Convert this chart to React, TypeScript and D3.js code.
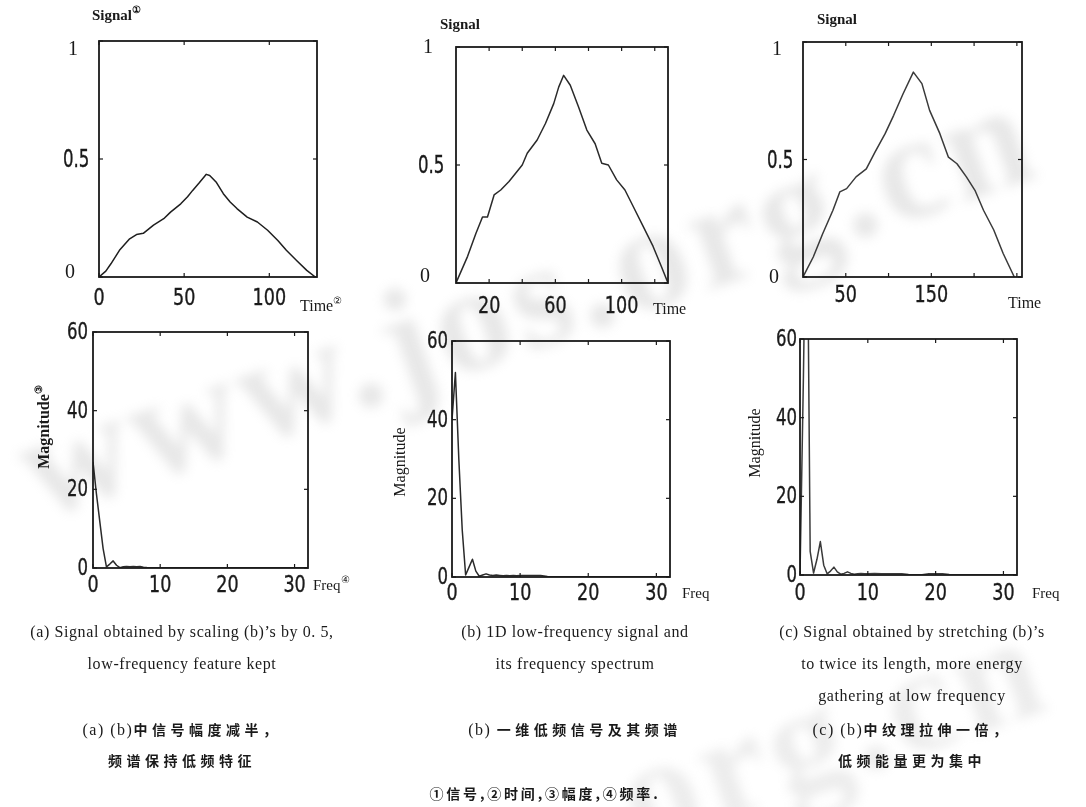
import * as d3 from 'd3';

// ---- signals (top row) ----
const timeA = [0, 4, 7, 12, 18, 22, 26, 32, 38, 42, 48, 52, 55, 59, 63, 65, 69, 73, 77, 81, 87, 93, 99, 105, 110, 116, 122, 127];
const signalA = [0, 0.025, 0.056, 0.113, 0.162, 0.18, 0.185, 0.22, 0.247, 0.275, 0.31, 0.34, 0.367, 0.4, 0.435, 0.43, 0.4, 0.353, 0.318, 0.29, 0.254, 0.233, 0.198, 0.155, 0.113, 0.07, 0.028, 0];

const timeB = [0, 7, 12, 16, 19, 23, 27, 32, 36, 40, 43, 49, 54, 59, 62, 65, 69, 74, 79, 84, 88, 92, 97, 102, 107, 113, 119, 124, 128];
const signalB = [0, 0.113, 0.21, 0.28, 0.28, 0.373, 0.394, 0.43, 0.465, 0.5, 0.55, 0.606, 0.676, 0.76, 0.83, 0.88, 0.838, 0.746, 0.648, 0.59, 0.507, 0.5, 0.437, 0.394, 0.324, 0.24, 0.155, 0.07, 0];

const timeC = [0, 12, 23, 35, 43, 51, 62, 74, 84, 96, 106, 117, 129, 139, 148, 160, 170, 180, 191, 201, 211, 223, 234, 247];
const signalC = [0, 0.085, 0.184, 0.284, 0.362, 0.376, 0.426, 0.46, 0.53, 0.61, 0.688, 0.78, 0.872, 0.823, 0.709, 0.61, 0.51, 0.482, 0.426, 0.369, 0.284, 0.2, 0.1, 0];

// ---- spectra (bottom row) ----
const freq = [0, 0.5, 1, 1.5, 2, 2.5, 3, 3.5, 4, 4.5, 5, 5.5, 6, 6.5, 7, 7.5, 8, 8.5, 9, 9.5, 10,
  11, 12, 13, 14, 15, 16, 17, 18, 19, 20, 21, 22, 23, 24, 25, 26, 27, 28, 29, 30, 31, 32];
const magA = [27, 19, 12, 5, 0.3, 1, 1.8, 0.7, 0.1, 0.3, 0.4, 0.3, 0.4, 0.3, 0.4, 0.2, 0.1, 0.05, 0.05, 0.05, 0.05,
  0.05, 0.05, 0.05, 0.05, 0.05, 0.05, 0.05, 0.05, 0.05, 0.05, 0.05, 0.05, 0.05, 0.05, 0.05, 0.05, 0.05, 0.05, 0.05, 0.05, 0.05, 0.05];
const magB = [40, 52, 30, 12, 0.5, 2.5, 4.5, 1.5, 0.2, 0.5, 0.8, 0.5, 0.4, 0.5, 0.4, 0.3, 0.4, 0.3, 0.4, 0.3, 0.4,
  0.4, 0.4, 0.4, 0.1, 0.05, 0.05, 0.05, 0.05, 0.05, 0.05, 0.05, 0.05, 0.05, 0.05, 0.05, 0.05, 0.05, 0.05, 0.05, 0.05, 0.05, 0.05];
const magC = [0, 50, 110, 6, 0.5, 4, 8.5, 2.5, 0.3, 1, 2, 0.8, 0.2, 0.4, 0.8, 0.4, 0.2, 0.3, 0.4, 0.3, 0.3,
  0.4, 0.3, 0.3, 0.3, 0.3, 0.1, 0.05, 0.05, 0.3, 0.3, 0.3, 0.1, 0.05, 0.05, 0.05, 0.05, 0.05, 0.05, 0.05, 0.05, 0.05, 0.05];

const captionsEn = [
  ['(a) Signal obtained by scaling (b)\u2019s by 0. 5,', 'low-frequency feature kept'],
  ['(b) 1D low-frequency signal and', 'its frequency spectrum'],
  ['(c) Signal obtained by stretching (b)\u2019s', 'to twice its length, more energy', 'gathering at low frequency'],
];
const captionsZh = [
  ['(a) (b)', '中信号幅度减半，', '', '频谱保持低频特征'],
  ['(b) ', '一维低频信号及其频谱'],
  ['(c) (b)', '中纹理拉伸一倍，', '', '低频能量更为集中'],
];
const footnote = '①信号,②时间,③幅度,④频率.';

const NUM_FONT = "'DejaVu Sans Condensed', 'DejaVu Sans', sans-serif";
const SERIF = "'Liberation Serif', 'DejaVu Serif', serif";
const CJK = "'Noto Sans CJK SC', sans-serif";
const INK = '#1a1a1a';

type Tick = { v: number; label?: string; serif?: boolean };

type PanelProps = {
  id: string;
  box: [number, number, number, number]; // x0, x1, y0, y1
  xDomain: [number, number];
  yDomain: [number, number];
  xs: number[];
  ys: number[];
  xTicks: Tick[];
  yTicks: Tick[];
  xLabelBase: number;
  yLabelRight: number;
  yLabelStart?: number;
  oneOff?: number;
  zeroOff?: number;
  lineColor: string;
};

const Num = ({ x, y, size, sx, anchor, children }:
  { x: number; y: number; size: number; sx: number; anchor: string; children: string }) => (
  <text transform={`translate(${x} ${y}) scale(${sx} 1)`} textAnchor={anchor}
    fontFamily={NUM_FONT} fontSize={size} fill={INK} stroke={INK} strokeWidth={0.35}>{children}</text>
);

const Panel = (p: PanelProps) => {
  const [x0, x1, y0, y1] = p.box;
  const xScale = d3.scaleLinear().domain(p.xDomain).range([x0, x1]);
  const yScale = d3.scaleLinear().domain(p.yDomain).range([y1, y0]);
  const line = d3.line<number>()
    .x((_, i) => xScale(p.xs[i]))
    .y((d) => yScale(d));
  const tl = 4;
  return (
    <g>
      <defs>
        <clipPath id={p.id}>
          <rect x={x0} y={y0} width={x1 - x0} height={y1 - y0} />
        </clipPath>
      </defs>
      <path d={line(p.ys) ?? ''} fill="none" stroke={p.lineColor} strokeWidth={1.5}
        strokeLinejoin="round" clipPath={`url(#${p.id})`} />
      <rect x={x0} y={y0} width={x1 - x0} height={y1 - y0} fill="none" stroke={INK} strokeWidth={1.8} />
      {p.xTicks.map((t, i) => {
        const x = xScale(t.v);
        return (
          <g key={`x${i}`}>
            <line x1={x} x2={x} y1={y1} y2={y1 - tl} stroke={INK} strokeWidth={1.2} />
            <line x1={x} x2={x} y1={y0} y2={y0 + tl} stroke={INK} strokeWidth={1.2} />
            {t.label && <Num x={x} y={p.xLabelBase} size={23} sx={0.85} anchor="middle">{t.label}</Num>}
          </g>
        );
      })}
      {p.yTicks.map((t, i) => {
        const y = yScale(t.v);
        let label = null;
        if (t.label && p.yLabelStart !== undefined) {
          label = t.serif
            ? <text x={p.yLabelStart + (t.v === 1 ? 5 : 2)} y={y + (t.v === 1 ? (p.oneOff ?? 11) : (p.zeroOff ?? 2))}
                fontFamily={SERIF} fontSize={20} fill={INK}>{t.label}</text>
            : <Num x={p.yLabelStart} y={y + 8} size={24} sx={0.77} anchor="start">{t.label}</Num>;
        } else if (t.label) {
          label = <Num x={p.yLabelRight} y={y + 7} size={23} sx={0.8} anchor="end">{t.label}</Num>;
        }
        return (
          <g key={`y${i}`}>
            <line x1={x0} x2={x0 + tl} y1={y} y2={y} stroke={INK} strokeWidth={1.2} />
            <line x1={x1} x2={x1 - tl} y1={y} y2={y} stroke={INK} strokeWidth={1.2} />
            {label}
          </g>
        );
      })}
    </g>
  );
};

const sup = (s: string) => <tspan fontSize={10} dy={-7}>{s}</tspan>;

export default function App() {
  const topY: Tick[] = [{ v: 0, label: '0', serif: true }, { v: 0.5, label: '0.5' }, { v: 1, label: '1', serif: true }];
  const botY: Tick[] = [{ v: 0, label: '0' }, { v: 20, label: '20' }, { v: 40, label: '40' }, { v: 60, label: '60' }];
  const botX: Tick[] = [{ v: 0, label: '0' }, { v: 10, label: '10' }, { v: 20, label: '20' }, { v: 30, label: '30' }];
  const enX = [182, 575, 912];
  const zhX = [182, 575, 912];

  return (
    <svg width={1086} height={807} style={{ position: 'absolute', left: 0, top: 0, background: '#fff' }}>
      <defs>
        <filter id="wmblur" x="-10%" y="-10%" width="120%" height="120%">
          <feGaussianBlur stdDeviation={6} />
        </filter>
      </defs>
      <rect width={1086} height={807} fill="#fff" />
      {/* watermark */}
      <g filter="url(#wmblur)" opacity={0.4}>
        <text x={40} y={520} transform="rotate(-19 40 520)" fontFamily={SERIF} fontWeight="bold"
          fontSize={150} fill="#c4c4c4" letterSpacing={6}>www.jos.org.cn</text>
        <text x={640} y={850} transform="rotate(-19 640 850)" fontFamily={SERIF} fontWeight="bold"
          fontSize={150} fill="#d0d0d0" letterSpacing={6}>org.cn</text>
      </g>

      {/* top row: signals */}
      <Panel id="cA" box={[99, 317, 41, 277]} xDomain={[0, 128]} yDomain={[0, 1]} xs={timeA} ys={signalA}
        xTicks={[{ v: 0, label: '0' }, { v: 50, label: '50' }, { v: 100, label: '100' }]} yTicks={topY}
        xLabelBase={305} yLabelRight={92} yLabelStart={63} oneOff={14} zeroOff={1} lineColor="#1e1e1e" />
      <Panel id="cB" box={[456, 668, 47, 283]} xDomain={[0, 128]} yDomain={[0, 1]} xs={timeB} ys={signalB}
        xTicks={[{ v: 20, label: '20' }, { v: 40 }, { v: 60, label: '60' }, { v: 80 }, { v: 100, label: '100' }, { v: 120 }]}
        yTicks={topY} xLabelBase={313} yLabelRight={450} yLabelStart={418} oneOff={6} zeroOff={-1} lineColor="#2a2a2a" />
      <Panel id="cC" box={[803, 1022, 42, 277]} xDomain={[0, 256]} yDomain={[0, 1]} xs={timeC} ys={signalC}
        xTicks={[{ v: 50, label: '50' }, { v: 100 }, { v: 150, label: '150' }, { v: 200 }, { v: 250 }]}
        yTicks={topY} xLabelBase={302} yLabelRight={800} yLabelStart={767} oneOff={13} zeroOff={6} lineColor="#3a3a3a" />

      {/* bottom row: spectra */}
      <Panel id="sA" box={[93, 308, 332, 568]} xDomain={[0, 32]} yDomain={[0, 60]} xs={freq} ys={magA}
        xTicks={botX} yTicks={botY} xLabelBase={592} yLabelRight={88} lineColor="#2a2a2a" />
      <Panel id="sB" box={[452, 670, 341, 577]} xDomain={[0, 32]} yDomain={[0, 60]} xs={freq} ys={magB}
        xTicks={botX} yTicks={botY} xLabelBase={600} yLabelRight={448} lineColor="#2a2a2a" />
      <Panel id="sC" box={[800, 1017, 339, 575]} xDomain={[0, 32]} yDomain={[0, 60]} xs={freq} ys={magC}
        xTicks={botX} yTicks={botY} xLabelBase={600} yLabelRight={797} lineColor="#3a3a3a" />

      {/* axis names */}
      <g fontFamily={SERIF} fill={INK}>
        <text x={92} y={20} fontSize={15} fontWeight="bold">Signal{sup('①')}</text>
        <text x={440} y={29} fontSize={15} fontWeight="bold">Signal</text>
        <text x={817} y={24} fontSize={15} fontWeight="bold">Signal</text>
        <text x={300} y={311} fontSize={16}>Time{sup('②')}</text>
        <text x={653} y={314} fontSize={16}>Time</text>
        <text x={1008} y={308} fontSize={16}>Time</text>
        <text x={313} y={590} fontSize={15}>Freq{sup('④')}</text>
        <text x={682} y={598} fontSize={15}>Freq</text>
        <text x={1032} y={598} fontSize={15}>Freq</text>
        <text transform="translate(49 427) rotate(-90)" textAnchor="middle" fontSize={16} fontWeight="bold">Magnitude{sup('③')}</text>
        <text transform="translate(405 462) rotate(-90)" textAnchor="middle" fontSize={16}>Magnitude</text>
        <text transform="translate(760 443) rotate(-90)" textAnchor="middle" fontSize={16}>Magnitude</text>
      </g>

      {/* captions */}
      <g fontFamily={SERIF} fontSize={16} fill={INK} textAnchor="middle" letterSpacing={0.6}>
        {captionsEn.map((lines, i) => lines.map((s, j) => (
          <text key={`en${i}${j}`} x={enX[i]} y={637 + j * 32}>{s}</text>
        )))}
      </g>
      <g fontSize={14} fill={INK} textAnchor="middle">
        {captionsZh.map((parts, i) => {
          const rows: [string, string][] = [];
          for (let k = 0; k < parts.length; k += 2) rows.push([parts[k], parts[k + 1]]);
          return rows.map(([latin, zh], j) => (
            <text key={`zh${i}${j}`} x={zhX[i]} y={735 + j * 31}>
              {latin && <tspan fontFamily={SERIF} fontSize={16} letterSpacing={1.5}>{latin}</tspan>}
              <tspan fontFamily={CJK} fontWeight="bold" letterSpacing={4.5}>{zh}</tspan>
            </text>
          ));
        })}
        <text x={545} y={799} fontFamily={CJK} fontWeight="bold" letterSpacing={2.8}>{footnote}</text>
      </g>
    </svg>
  );
}
